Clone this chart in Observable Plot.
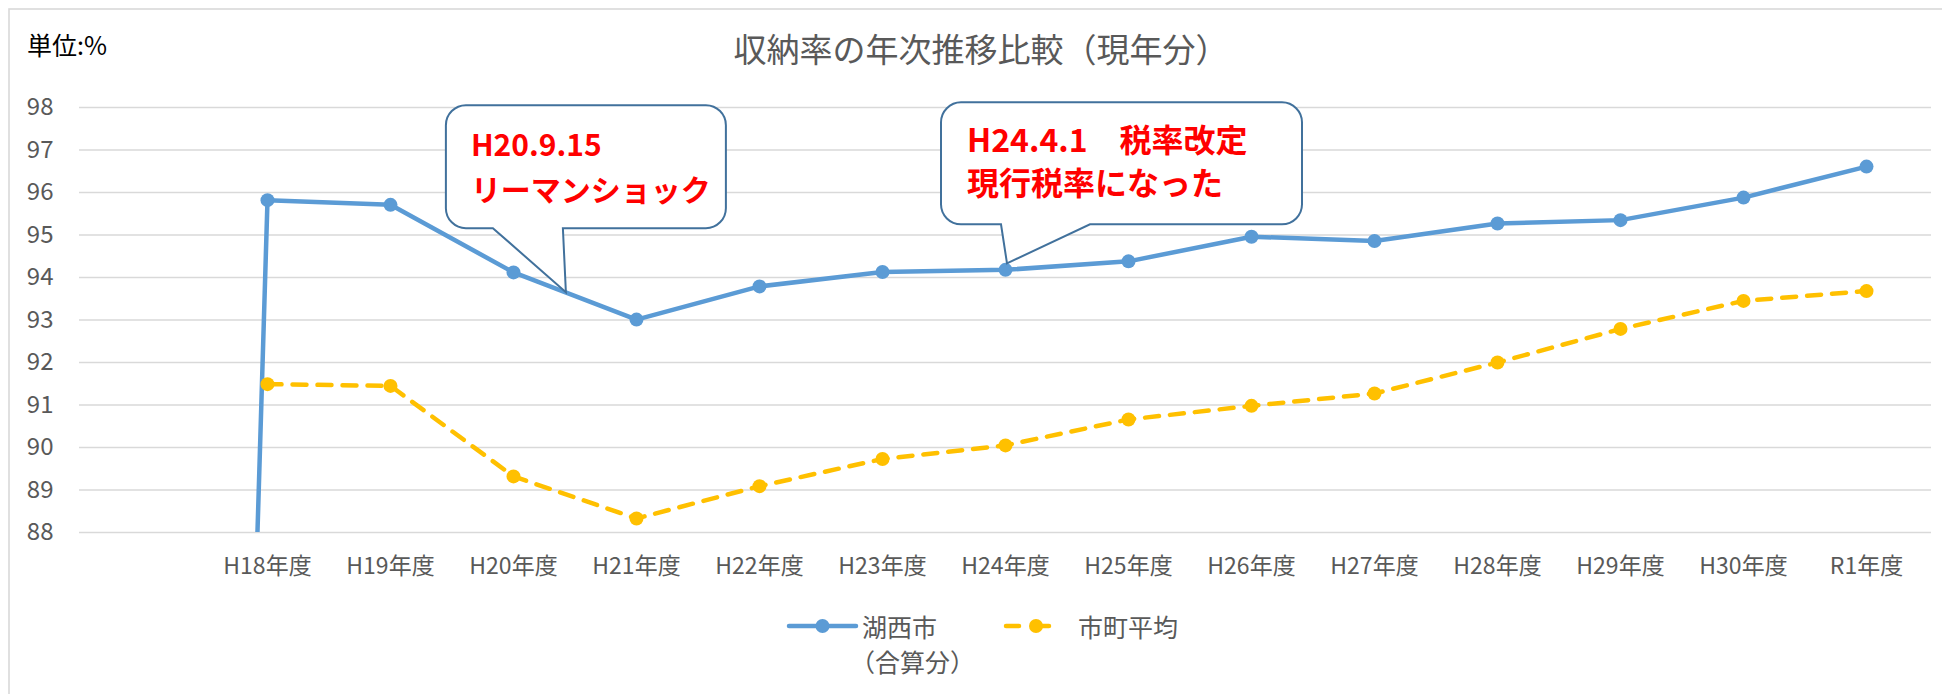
<!DOCTYPE html>
<html>
<head>
<meta charset="utf-8">
<script src="https://cdn.jsdelivr.net/npm/d3@7"></script>
<script src="https://cdn.jsdelivr.net/npm/@observablehq/plot@0.6"></script>
<style>
  html, body { margin: 0; padding: 0; background: #fff; }
  #chart { position: relative; width: 1942px; height: 694px; overflow: hidden; }
</style>
</head>
<body>
<div id="chart"></div>
<script>
// ---------- data ----------
const categories = ["", "H18年度", "H19年度", "H20年度", "H21年度", "H22年度", "H23年度", "H24年度",
  "H25年度", "H26年度", "H27年度", "H28年度", "H29年度", "H30年度", "R1年度"];
const kosaiValues   = [0, 95.82, 95.71, 94.12, 93.01, 93.79, 94.13, 94.18, 94.38, 94.96, 94.86, 95.27, 95.35, 95.88, 96.61];
const averageValues = [null, 91.49, 91.45, 89.32, 88.33, 89.09, 89.73, 90.05, 90.66, 90.98, 91.27, 92.00, 92.79, 93.45, 93.68];
const yTicks = [88, 89, 90, 91, 92, 93, 94, 95, 96, 97, 98];
const seriesNames = [["湖西市", "（合算分）"], ["市町平均"]];
const titleText = "収納率の年次推移比較（現年分）";
const unitText = "単位:%";
const callout1Lines = ["H20.9.15", "リーマンショック"];
const callout2Lines = ["H24.4.1　税率改定", "現行税率になった"];

const FONT = "'Noto Sans CJK JP', 'Noto Sans', sans-serif";
const BLUE = "#5B9BD5", YELLOW = "#FFC000", GRID = "#d9d9d9", TEXT = "#595959";

const kosai = categories.map((c, i) => ({cat: c, v: kosaiValues[i]}));
const average = categories.map((c, i) => ({cat: c, v: averageValues[i]})).filter(d => d.v != null);

const plot = Plot.plot({
  width: 1942,
  height: 694,
  marginLeft: 79,
  marginRight: 11,
  marginTop: 107,
  marginBottom: 162,
  style: {fontFamily: FONT, background: "transparent", overflow: "visible"},
  x: {type: "point", domain: categories, padding: 0.5, label: null},
  y: {domain: [88, 98], label: null},
  marks: [
    Plot.gridY(yTicks, {stroke: GRID, strokeOpacity: 1, strokeWidth: 1.6}),
    Plot.axisY(yTicks, {tickSize: 0, tickPadding: 26, fontSize: 24, fill: TEXT, label: null}),
    Plot.axisX({tickSize: 0, tickPadding: 25, fontSize: 23, fill: TEXT, label: null}),
    Plot.line(kosai, {x: "cat", y: "v", stroke: BLUE, strokeWidth: 4.5, clip: true}),
    Plot.dot(kosai, {x: "cat", y: "v", r: 7, fill: BLUE, stroke: null, clip: true}),
    Plot.line(average, {x: "cat", y: "v", stroke: YELLOW, strokeWidth: 4.5, strokeDasharray: "14 11", strokeLinecap: "round"}),
    Plot.dot(average, {x: "cat", y: "v", r: 7, fill: YELLOW, stroke: null})
  ]
});

document.getElementById("chart").appendChild(plot);
const svg = d3.select(plot);
const sx = plot.scale("x"), sy = plot.scale("y");

// chart frame
svg.insert("rect", ":first-child")
  .attr("x", 9).attr("y", 9).attr("width", 1960).attr("height", 720)
  .attr("fill", "#fff").attr("stroke", GRID).attr("stroke-width", 1.6);

// title & unit
svg.append("text").attr("x", 981).attr("y", 48).attr("text-anchor", "middle")
  .attr("dominant-baseline", "central").attr("font-family", FONT).attr("font-size", 33)
  .attr("fill", TEXT).text(titleText);
svg.append("text").attr("x", 27).attr("y", 44).attr("text-anchor", "start")
  .attr("dominant-baseline", "central").attr("font-family", FONT).attr("font-size", 25)
  .attr("fill", "#000").text(unitText);

// callouts
function calloutPath(L, T, R, B, r, a, b, tx, ty) {
  return `M${L + r},${T} H${R - r} A${r},${r} 0 0 1 ${R},${T + r} V${B - r} A${r},${r} 0 0 1 ${R - r},${B}` +
    ` H${b} L${tx},${ty} L${a},${B} H${L + r} A${r},${r} 0 0 1 ${L},${B - r} V${T + r} A${r},${r} 0 0 1 ${L + r},${T} Z`;
}
function drawCallout(tip, box, lines, textX, baselines, fontSize) {
  const g = svg.append("g");
  g.append("path")
    .attr("d", calloutPath(tip.x + box.l, tip.y + box.t, tip.x + box.r, tip.y + box.b, 20,
      tip.x + box.a, tip.x + box.bb, tip.x, tip.y))
    .attr("fill", "#fff").attr("stroke", "#41719C").attr("stroke-width", 2);
  lines.forEach((t, i) => {
    g.append("text").attr("x", tip.x + textX).attr("y", tip.y + baselines[i])
      .attr("text-anchor", "start")
      .attr("font-family", FONT).attr("font-weight", "bold").attr("font-size", fontSize)
      .attr("fill", "#FF0000").text(t);
  });
}
// callout 1: tip on the 湖西市 line between H20 and H21
{
  const t = 0.43;
  const x0 = sx.apply("H20年度"), x1 = sx.apply("H21年度");
  const y0 = sy.apply(kosaiValues[3]), y1 = sy.apply(kosaiValues[4]);
  const tip = {x: x0 + (x1 - x0) * t, y: y0 + (y1 - y0) * t};
  drawCallout(tip, {l: -120, r: 160, t: -187, b: -64, a: -73, bb: -3}, callout1Lines, -95, [-136, -91], 30);
}
// callout 2: tip at H24 point
{
  const tip = {x: sx.apply("H24年度") + 2, y: sy.apply(kosaiValues[7]) - 6};
  drawCallout(tip, {l: -66, r: 295, t: -161, b: -39, a: -6, bb: 83}, callout2Lines, -40, [-111, -68], 32);
}

// legend
const lg = svg.append("g").attr("font-family", FONT).attr("font-size", 25).attr("fill", TEXT)
  .attr("text-anchor", "start");
lg.append("line").attr("x1", 789).attr("x2", 856).attr("y1", 626).attr("y2", 626)
  .attr("stroke", BLUE).attr("stroke-width", 4.5).attr("stroke-linecap", "round");
lg.append("circle").attr("cx", 822.5).attr("cy", 626).attr("r", 7).attr("fill", BLUE);
lg.append("text").attr("x", 862).attr("y", 626).attr("dominant-baseline", "central").text(seriesNames[0][0]);
lg.append("text").attr("x", 850).attr("y", 661).attr("dominant-baseline", "central").text(seriesNames[0][1]);
lg.append("line").attr("x1", 1006).attr("x2", 1064).attr("y1", 626).attr("y2", 626)
  .attr("stroke", YELLOW).attr("stroke-width", 4.5).attr("stroke-linecap", "round")
  .attr("stroke-dasharray", "13 17");
lg.append("circle").attr("cx", 1036).attr("cy", 626).attr("r", 7).attr("fill", YELLOW);
lg.append("text").attr("x", 1078).attr("y", 626).attr("dominant-baseline", "central").text(seriesNames[1][0]);
</script>
</body>
</html>
